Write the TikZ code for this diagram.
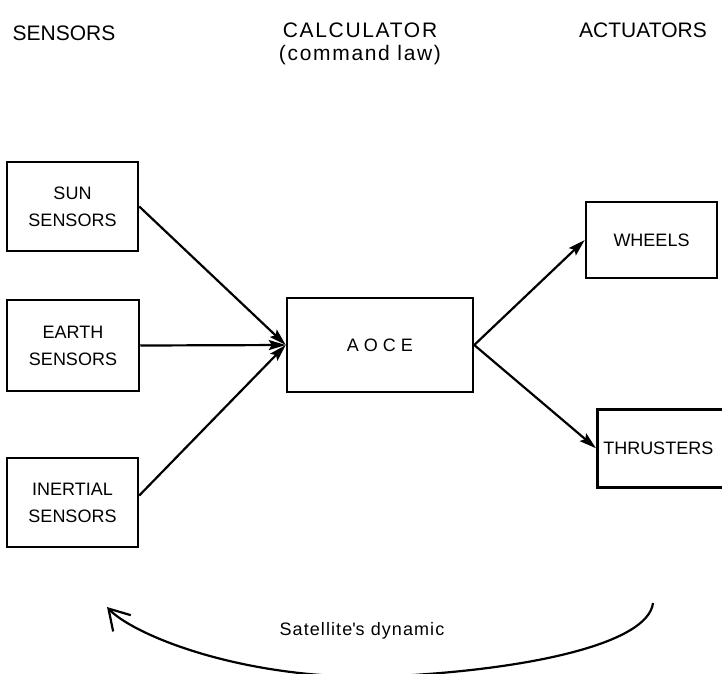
\documentclass[tikz,border=0pt]{standalone}
\usepackage{fontspec}
\setmainfont{Liberation Sans}
\usetikzlibrary{arrows.meta}
\newcommand{\boxfont}{\fontsize{18}{27}\selectfont}
\newcommand{\headfont}{\fontsize{21}{25}\selectfont}
\begin{document}
\begin{tikzpicture}[x=1pt,y=-1pt,
  unit/.style={draw, line width=2.5pt, inner sep=0pt, align=center, font=\boxfont},
  head/.style={inner sep=0pt, align=center, font=\headfont},
  flow/.style={line width=2.2pt, -{Stealth[length=17pt,width=10pt,inset=3pt]}},
  loop/.style={line width=2.2pt, -{Straight Barb[length=20pt,width=24pt]}}]
\clip (0,0) rectangle (722,673);

% column titles
\node[head] (tsens) at (64,33) {SENSORS};
\node[head] (tcalc) at (360,30) {\addfontfeature{LetterSpace=8}CALCULATOR};
\node[head] (tlaw) at (360,55) {\addfontfeature{LetterSpace=8}(command law)};
\node[head] (tact) at (643,30) {ACTUATORS};

% sensors
\node[unit, minimum width=131, minimum height=89] (sun) at (72.5,206.5) {SUN\\SENSORS};
\node[unit, minimum width=132, minimum height=91] (earth) at (73,345.5) {EARTH\\SENSORS};
\node[unit, minimum width=131, minimum height=89] (inertial) at (72.5,502.5) {INERTIAL\\SENSORS};

% calculator
\node[unit, minimum width=186, minimum height=94] (aoce) at (380,345) {A O C E};

% actuators
\node[unit, minimum width=131, minimum height=76] (wheels) at (651.5,240) {WHEELS};
\node[unit, anchor=north west, minimum height=78, text width=132, inner xsep=6pt, align=left]
  (thrusters) at (596,408) {THRUSTERS};

% signal flow
\draw[flow] (sun.east) -- (aoce.west);
\draw[flow] (earth.east) -- (aoce.west);
\draw[flow] ([yshift=7pt]inertial.east) -- (aoce.west);
\draw[flow] (aoce.east) -- (wheels.west);
\draw[flow] (aoce.east) -- (thrusters.west);

% feedback through the satellite dynamics
\coordinate (dynR) at (653,603);
\coordinate (dynB) at (372,677);
\coordinate (dynL) at (107,607);
\draw[loop] (dynR) .. controls (648,645) and (520,672) .. (dynB)
  .. controls (230,677) and (130,632) .. (dynL);
\node[inner sep=0pt, font=\boxfont] (dyn) at (362,631)
  {\addfontfeature{LetterSpace=6}Satellite\textquotesingle s dynamic};
\end{tikzpicture}
\end{document}
